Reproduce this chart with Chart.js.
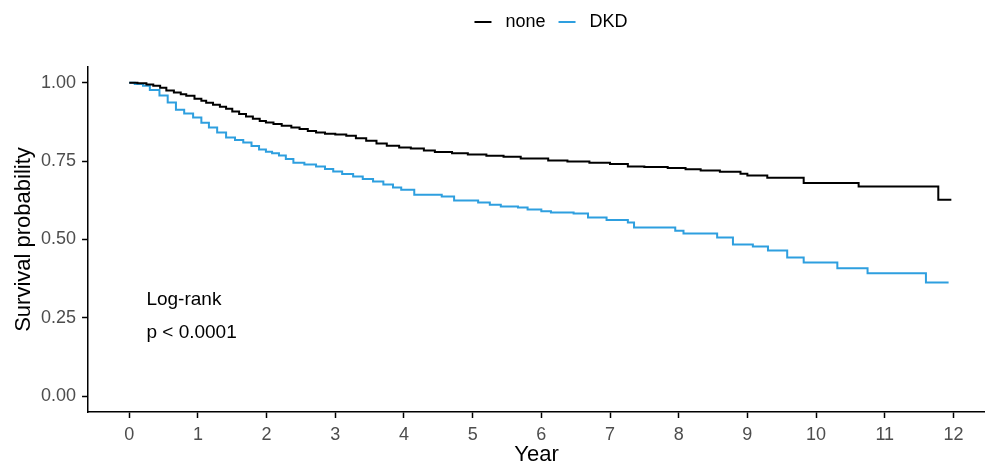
<!DOCTYPE html>
<html>
<head>
<meta charset="utf-8">
<script src="https://cdn.jsdelivr.net/npm/chart.js@4"></script>
<style>
  body { margin: 0; background: #fff; }
  #wrap { width: 985px; height: 462px; }
</style>
</head>
<body>
<div id="wrap"><canvas id="kmChart"></canvas></div>
<script>
// courbes de survie (temps en années, survie)
const noneTimes = [0, 0.12, 0.25, 0.35, 0.45, 0.54, 0.65, 0.75, 0.83, 0.95, 1.05, 1.12, 1.22, 1.32, 1.41, 1.5, 1.6, 1.7, 1.8, 1.9, 1.99, 2.1, 2.22, 2.36, 2.48, 2.6, 2.72, 2.85, 3.0, 3.16, 3.3, 3.45, 3.6, 3.75, 3.93, 4.1, 4.29, 4.45, 4.7, 4.93, 5.2, 5.45, 5.7, 6.1, 6.38, 6.7, 7.0, 7.26, 7.5, 7.84, 8.1, 8.32, 8.6, 8.9, 9.0, 9.29, 9.82, 10.62, 11.78, 11.97];
const noneSurv  = [1.0, 0.998, 0.994, 0.99, 0.984, 0.975, 0.969, 0.963, 0.958, 0.949, 0.942, 0.936, 0.93, 0.923, 0.917, 0.908, 0.9, 0.892, 0.885, 0.878, 0.873, 0.868, 0.863, 0.857, 0.852, 0.846, 0.841, 0.837, 0.835, 0.831, 0.823, 0.815, 0.806, 0.799, 0.793, 0.79, 0.784, 0.779, 0.775, 0.771, 0.767, 0.764, 0.758, 0.752, 0.749, 0.745, 0.741, 0.733, 0.731, 0.728, 0.724, 0.72, 0.716, 0.71, 0.704, 0.697, 0.68, 0.669, 0.627, 0.627];

const dkdTimes = [0, 0.08, 0.2, 0.3, 0.44, 0.56, 0.68, 0.8, 0.93, 1.05, 1.16, 1.28, 1.41, 1.54, 1.66, 1.78, 1.89, 1.99, 2.08, 2.18, 2.28, 2.39, 2.55, 2.72, 2.85, 2.97, 3.1, 3.26, 3.4, 3.55, 3.7, 3.84, 3.96, 4.15, 4.55, 4.73, 5.08, 5.25, 5.41, 5.66, 5.8, 6.0, 6.14, 6.47, 6.68, 6.95, 7.26, 7.35, 7.95, 8.07, 8.56, 8.79, 9.08, 9.3, 9.58, 9.82, 10.31, 10.75, 11.6, 11.93];
const dkdSurv  = [1.0, 0.996, 0.99, 0.977, 0.959, 0.937, 0.914, 0.902, 0.889, 0.872, 0.857, 0.841, 0.825, 0.817, 0.809, 0.798, 0.787, 0.78, 0.775, 0.768, 0.757, 0.745, 0.739, 0.733, 0.725, 0.717, 0.709, 0.701, 0.693, 0.685, 0.675, 0.666, 0.659, 0.643, 0.637, 0.624, 0.618, 0.611, 0.605, 0.602, 0.596, 0.59, 0.586, 0.583, 0.57, 0.562, 0.554, 0.538, 0.528, 0.519, 0.506, 0.484, 0.478, 0.465, 0.443, 0.427, 0.408, 0.392, 0.363, 0.363];

const xTicks = [0, 1, 2, 3, 4, 5, 6, 7, 8, 9, 10, 11, 12];
const yTicks = [0, 0.25, 0.5, 0.75, 1];
const annotation = ['Log-rank', 'p < 0.0001'];

const FONT = "'Liberation Sans', Arial, sans-serif";

function toPoints(times, surv) {
    return times.map((t, i) => ({ x: t, y: surv[i] }));
}

// texte "Log-rank / p" dans la zone du graphique
const annotationPlugin = {
    id: 'annot',
    afterDatasetsDraw(chart) {
        const { ctx, scales } = chart;
        ctx.save();
        ctx.font = '19px ' + FONT;
        ctx.fillStyle = '#000';
        ctx.textBaseline = 'middle';
        ctx.textAlign = 'left';
        ctx.fillText(annotation[0], scales.x.getPixelForValue(0.25), scales.y.getPixelForValue(0.309));
        ctx.fillText(annotation[1], scales.x.getPixelForValue(0.25), scales.y.getPixelForValue(0.204));
        ctx.restore();
    }
};

// légende façon ggplot : trait court + libellé, centrée un peu à droite
const ggLegend = {
    id: 'ggLegend',
    afterDraw(chart) {
        const ctx = chart.ctx;
        const sets = chart.data.datasets;
        const lineLen = 17, gapText = 14, gapItem = 13;
        ctx.save();
        ctx.font = '18px ' + FONT;
        ctx.textBaseline = 'middle';
        let total = 0;
        sets.forEach((ds, i) => {
            total += lineLen + gapText + ctx.measureText(ds.label).width + (i < sets.length - 1 ? gapItem : 0);
        });
        let x = 551 - total / 2;
        const y = 22;
        sets.forEach(ds => {
            ctx.strokeStyle = ds.borderColor;
            ctx.lineWidth = 2;
            ctx.beginPath();
            ctx.moveTo(x, y);
            ctx.lineTo(x + lineLen, y);
            ctx.stroke();
            x += lineLen + gapText;
            ctx.fillStyle = '#000';
            ctx.fillText(ds.label, x, y);
            x += ctx.measureText(ds.label).width + gapItem;
        });
        ctx.restore();
    }
};

const ctx = document.getElementById('kmChart').getContext('2d');
new Chart(ctx, {
    type: 'line',
    data: {
        datasets: [{
            label: 'none',
            data: toPoints(noneTimes, noneSurv),
            borderColor: '#000000',
            backgroundColor: '#000000',
            borderWidth: 2,
            stepped: 'before',
            pointRadius: 0,
            fill: false
        }, {
            label: 'DKD',
            data: toPoints(dkdTimes, dkdSurv),
            borderColor: '#2E9FDF',
            backgroundColor: '#2E9FDF',
            borderWidth: 2,
            stepped: 'before',
            pointRadius: 0,
            fill: false
        }]
    },
    options: {
        responsive: true,
        maintainAspectRatio: false,
        animation: false,
        layout: { padding: { top: 67, left: 2, right: 0, bottom: -4 } },
        plugins: {
            tooltip: { enabled: false },
            legend: { display: false }
        },
        scales: {
            x: {
                type: 'linear',
                min: -0.6,
                max: 12.46,
                afterBuildTicks: axis => { axis.ticks = xTicks.map(v => ({ value: v })); },
                grid: { drawOnChartArea: false, tickLength: 6, tickColor: '#000', tickWidth: 1.5 },
                border: { display: true, color: '#000', width: 1.5 },
                ticks: { color: '#4d4d4d', font: { family: FONT, size: 18, lineHeight: 1 }, padding: 8, maxRotation: 0 },
                title: { display: true, text: 'Year', color: '#000', font: { family: FONT, size: 22, lineHeight: 1 }, padding: { top: -8, bottom: 0 } }
            },
            y: {
                min: -0.05,
                max: 1.05,
                afterBuildTicks: axis => { axis.ticks = yTicks.map(v => ({ value: v })); },
                grid: { drawOnChartArea: false, tickLength: 6, tickColor: '#000', tickWidth: 1.5 },
                border: { display: true, color: '#000', width: 1.5 },
                ticks: { color: '#4d4d4d', font: { family: FONT, size: 18 }, padding: 6, callback: v => v.toFixed(2) },
                title: { display: true, text: 'Survival probability', color: '#000', font: { family: FONT, size: 22, lineHeight: 1 }, padding: { top: 11, bottom: 0 } }
            }
        }
    },
    plugins: [annotationPlugin, ggLegend]
});
</script>
</body>
</html>
